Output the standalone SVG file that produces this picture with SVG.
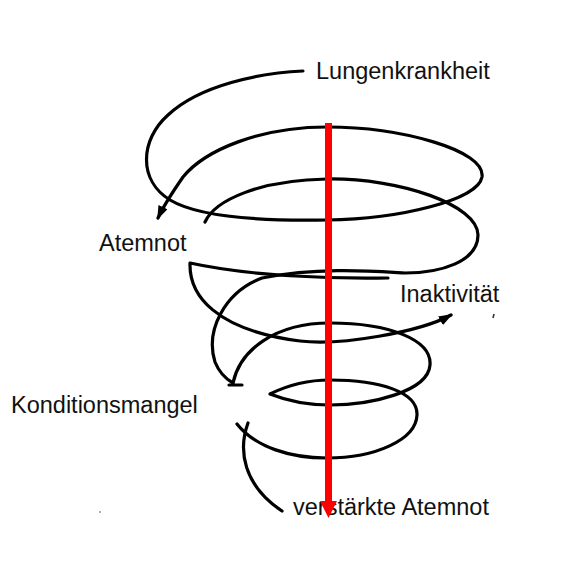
<svg xmlns="http://www.w3.org/2000/svg" width="569" height="574" viewBox="0 0 569 574">
  <defs>
    <style>
      .lbl { font-family: "Liberation Sans", Arial, sans-serif; font-size: 23.5px; fill: #111; }
      .sp { fill: none; stroke: #000; stroke-width: 3.2; stroke-linecap: round; stroke-linejoin: round; }
    </style>
    <marker id="ah" viewBox="0 0 14 10" refX="12" refY="5" markerWidth="14" markerHeight="10" markerUnits="userSpaceOnUse" orient="auto">
      <path d="M0,0 L14,5 L0,10 Z" fill="#000"/>
    </marker>
  </defs>
  <rect width="569" height="574" fill="#fff"/>

  <g id="connectors">
    <path id="c1" class="sp" marker-end="url(#ah)" d="M303,71 C260,73 200,85 168,115 C140,140 138,180 170,200 C200,218 270,221 327,220 C400,219 478,200 482,177 C486,150 400,127 327,127 C260,127 205,150 183,177 C174,190 164,205 158,218"/>
    <path id="c2" class="sp" d="M205,222 C215,200 260,180 327,179 C400,178 478,205 478,235 C478,262 440,273 405,273 C370,271 320,267 262,278 C225,292 205,330 215,362 C219,372 226,379 233,383"/>
    <path id="c3" class="sp" marker-end="url(#ah)" d="M388,278 C330,279 250,276 190,263 C189,295 215,330 300,341 C340,346 420,332 451,315"/>
    <path id="c4" class="sp" d="M233,383 C240,350 275,323 330,323 C390,323 432,340 430,365 C428,392 370,405 330,405 C305,405 285,400 270,394 C290,384 310,380 330,380 C380,380 418,392 417,415 C416,440 375,458 327,458 C290,458 255,447 237,424"/>
    <path id="tick" class="sp" stroke-width="2.4" d="M229,385 L242,385"/>
    <path id="c5" class="sp" d="M248,423 C238,450 243,485 282,511"/>
  </g>

  <g id="node-lungenkrankheit"><text class="lbl" x="316" y="79">Lungenkrankheit</text></g>
  <g id="node-atemnot"><text class="lbl" x="99" y="251">Atemnot</text></g>
  <g id="node-inaktivitaet"><text class="lbl" x="400" y="302">Inaktivität</text></g>
  <g id="node-konditionsmangel"><text class="lbl" x="11" y="413">Konditionsmangel</text></g>
  <g id="node-verstaerkte-atemnot"><text class="lbl" x="293" y="515">verstärkte Atemnot</text></g>

  <g id="red-arrow">
    <line x1="328.5" y1="123" x2="328.5" y2="503" stroke="#f00" stroke-width="7"/>
    <polygon points="320,501 337,501 328.5,518" fill="#f00"/>
  </g>

  <g id="marks">
    <path d="M494,314 L493,318" stroke="#333" stroke-width="1.5"/>
    <circle cx="100" cy="512" r="0.8" fill="#444"/>
  </g>
</svg>
